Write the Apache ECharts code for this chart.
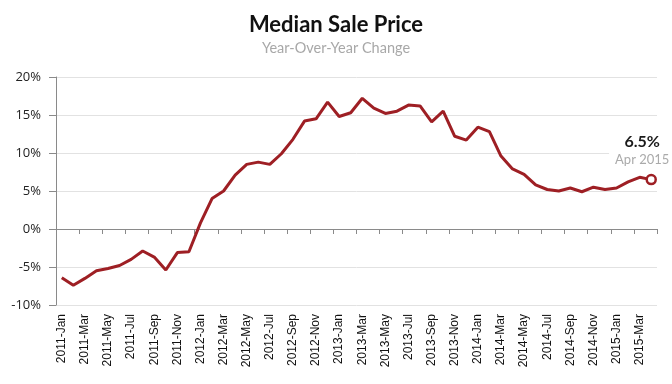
<!DOCTYPE html>
<html>
<head>
<meta charset="utf-8">
<script src="https://cdn.jsdelivr.net/npm/echarts@6/dist/echarts.min.js"></script>
<style>
html,body{margin:0;padding:0;background:#fff;}
#chart{width:672px;height:384px;}
</style>
</head>
<body>
<div id="chart"></div>
<script>
var titleText = 'Median Sale Price';
var subtitleText = 'Year-Over-Year Change';

var categories = [
  '2011-Jan','2011-Feb','2011-Mar','2011-Apr','2011-May','2011-Jun','2011-Jul','2011-Aug','2011-Sep','2011-Oct','2011-Nov','2011-Dec',
  '2012-Jan','2012-Feb','2012-Mar','2012-Apr','2012-May','2012-Jun','2012-Jul','2012-Aug','2012-Sep','2012-Oct','2012-Nov','2012-Dec',
  '2013-Jan','2013-Feb','2013-Mar','2013-Apr','2013-May','2013-Jun','2013-Jul','2013-Aug','2013-Sep','2013-Oct','2013-Nov','2013-Dec',
  '2014-Jan','2014-Feb','2014-Mar','2014-Apr','2014-May','2014-Jun','2014-Jul','2014-Aug','2014-Sep','2014-Oct','2014-Nov','2014-Dec',
  '2015-Jan','2015-Feb','2015-Mar','2015-Apr'
];

var yoyChange = [
  -6.4, -7.4, -6.5, -5.5, -5.2, -4.8, -4.0, -2.9, -3.7, -5.4, -3.1, -3.0,
  0.8, 4.0, 5.0, 7.1, 8.5, 8.8, 8.5, 9.9, 11.8, 14.2, 14.5, 16.7,
  14.8, 15.3, 17.2, 15.9, 15.2, 15.5, 16.3, 16.2, 14.1, 15.5, 12.2, 11.7,
  13.4, 12.8, 9.6, 7.9, 7.2, 5.8, 5.2, 5.0, 5.4, 4.9, 5.5, 5.2,
  5.4, 6.2, 6.8, 6.5
];

var lastLabelDate = 'Apr 2015';
var yTicks = {min: -10, max: 20, interval: 5};

var lineColor = '#9e1f24';

var seriesData = yoyChange.map(function (v, i) {
  if (i === yoyChange.length - 1) {
    return {
      value: v,
      symbol: 'circle',
      symbolSize: 9,
      itemStyle: {color: '#ffffff', borderColor: lineColor, borderWidth: 2.5},
      label: {
        show: true,
        position: 'top',
        distance: 6,
        offset: [-11, 0],
        backgroundColor: '#ffffff',
        padding: [0, 2, 0, 6],
        formatter: function (p) { return '{a|' + p.value.toFixed(1) + '%}\n{b|' + lastLabelDate + '}'; },
        rich: {
          a: {fontFamily: 'Lato', fontWeight: 'bold', fontSize: 16, color: '#1a1a1a', lineHeight: 19, align: 'center'},
          b: {fontFamily: 'Lato', fontSize: 13, color: '#aaaaaa', lineHeight: 17, align: 'center'}
        }
      }
    };
  }
  return {value: v};
});

var chart = echarts.init(document.getElementById('chart'), null, {renderer: 'canvas'});
chart.setOption({
  animation: false,
  backgroundColor: '#ffffff',
  title: {
    text: titleText,
    subtext: subtitleText,
    left: 'center',
    top: 9,
    itemGap: 5,
    textStyle: {fontFamily: 'Lato', fontWeight: 'bold', fontSize: 22, color: '#111111'},
    subtextStyle: {fontFamily: 'Lato', fontSize: 14.5, color: '#a8a8a8'}
  },
  grid: {left: 56, right: 15, top: 77, bottom: 79, containLabel: false},
  xAxis: [
    {
      type: 'category',
      data: categories,
      boundaryGap: true,
      position: 'bottom',
      axisLine: {show: false, onZero: false},
      axisTick: {show: false},
      axisLabel: {
        interval: 1,
        rotate: 90,
        margin: 9,
        fontFamily: 'Liberation Sans',
        fontSize: 12,
        color: '#111111'
      },
      splitLine: {show: false}
    },
    {
      type: 'category',
      data: categories,
      boundaryGap: true,
      position: 'bottom',
      axisLine: {show: true, onZero: true, lineStyle: {color: '#8a8a8a', width: 1}},
      axisTick: {show: true, interval: 1, length: 5, inside: false, lineStyle: {color: '#8a8a8a'}},
      axisLabel: {show: false},
      splitLine: {show: false}
    }
  ],
  yAxis: {
    type: 'value',
    min: yTicks.min,
    max: yTicks.max,
    interval: yTicks.interval,
    axisLine: {show: true, lineStyle: {color: '#8a8a8a', width: 1}},
    axisTick: {show: true, length: 7, lineStyle: {color: '#8a8a8a'}},
    axisLabel: {
      formatter: '{value}%',
      margin: 15,
      fontFamily: 'Open Sans',
      fontSize: 13,
      color: '#222222'
    },
    splitLine: {show: true, lineStyle: {color: '#e2e2e2', width: 1}}
  },
  series: [{
    type: 'line',
    xAxisIndex: 0,
    data: seriesData,
    symbol: 'none',
    showSymbol: true,
    showAllSymbol: true,
    lineStyle: {color: lineColor, width: 3},
    itemStyle: {color: lineColor},
    z: 5
  }]
});
</script>
</body>
</html>
